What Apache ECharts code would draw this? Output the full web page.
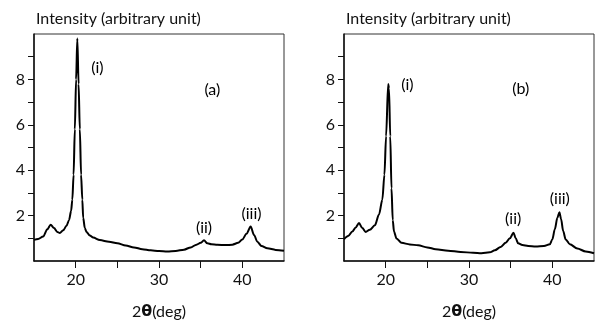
<!DOCTYPE html>
<html>
<head>
<meta charset="utf-8">
<script src="https://cdn.jsdelivr.net/npm/echarts@6/dist/echarts.min.js"></script>
<style>
html,body{margin:0;padding:0;background:#fff;}
#c{width:595px;height:328px;}
</style>
</head>
<body>
<div id="c"></div>
<script>
// 2θ (deg), intensity pairs for panel (a)
const seriesA = [
  [15.0,0.93],[15.5,0.97],[16.1,1.08],[16.6,1.4],[17.0,1.6],[17.4,1.45],[17.8,1.28],[18.1,1.23],
  [18.5,1.35],[18.9,1.55],[19.2,1.8],[19.45,2.2],[19.6,2.7],[19.75,3.8],[19.9,5.8],[20.05,8.0],
  [20.2,9.8],[20.35,7.8],[20.5,5.8],[20.65,3.8],[20.8,2.7],[20.9,1.9],[21.1,1.45],[21.3,1.28],
  [21.7,1.12],[22.1,1.03],[22.9,0.92],[24.0,0.85],[25.0,0.78],[26.0,0.68],[27.0,0.6],[28.0,0.52],
  [29.0,0.47],[30.0,0.44],[31.0,0.42],[32.0,0.44],[33.0,0.5],[33.8,0.6],[34.5,0.72],[35.0,0.8],
  [35.4,0.91],[35.8,0.78],[36.3,0.74],[37.0,0.72],[38.0,0.7],[38.8,0.72],[39.5,0.8],[40.0,0.95],
  [40.5,1.2],[41.0,1.52],[41.4,1.15],[41.8,0.85],[42.3,0.66],[43.0,0.56],[44.0,0.49],[45.0,0.45]
];
// 2θ (deg), intensity pairs for panel (b)
const seriesB = [
  [15.0,0.96],[15.5,1.1],[16.0,1.3],[16.4,1.48],[16.8,1.67],[17.2,1.45],[17.6,1.28],[18.1,1.38],
  [18.7,1.57],[19.2,2.05],[19.6,2.7],[19.85,3.8],[20.05,5.5],[20.3,7.8],[20.4,7.6],[20.55,5.5],
  [20.7,3.2],[20.85,1.8],[21.0,1.3],[21.3,0.99],[21.9,0.8],[22.9,0.73],[23.9,0.69],[25.0,0.6],
  [26.0,0.52],[27.5,0.45],[29.0,0.4],[30.5,0.36],[31.5,0.34],[32.5,0.38],[33.1,0.47],[33.8,0.62],
  [34.4,0.8],[34.9,1.0],[35.35,1.25],[35.6,1.0],[35.9,0.78],[36.4,0.7],[37.1,0.66],[38.0,0.64],
  [39.0,0.66],[39.7,0.74],[40.0,0.95],[40.3,1.4],[40.6,1.9],[40.85,2.15],[41.05,1.85],[41.3,1.32],
  [41.6,0.95],[42.1,0.74],[43.0,0.55],[44.0,0.42],[45.0,0.34]
];
const xTicks = [20,25,30,35,40];
const xLabels = [20,30,40];
const yTicks = [1,2,3,4,5,6,7,8,9];
const yLabels = [2,4,6,8];
const annotationsA = [['(i)',22.6,8.5],['(a)',36.4,7.56],['(ii)',35.4,1.45],['(iii)',41.1,2.06]];
const annotationsB = [['(i)',22.6,7.74],['(b)',36.2,7.6],['(ii)',35.3,1.87],['(iii)',40.9,2.72]];
const yTitle = 'Intensity (arbitrary unit)';

const FONT = 'Lato';
const chart = echarts.init(document.getElementById('c'), null, {renderer:'canvas'});

function xAxis(gi){
  return {
    type:'value', gridIndex:gi, min:15, max:45,
    axisLine:{show:true, lineStyle:{color:'#111', width:1.5}},
    axisTick:{show:true, customValues:xTicks, length:7, lineStyle:{color:'#111', width:1}},
    axisLabel:{show:true, customValues:xLabels, fontSize:16, color:'#111', fontFamily:FONT, margin:11},
    splitLine:{show:false},
    name:'{n|2}{b|θ}{n|(deg)}', nameLocation:'middle', nameGap:43,
    nameTextStyle:{rich:{n:{fontSize:16, color:'#111', fontFamily:FONT}, b:{fontSize:16, fontWeight:'bold', color:'#111', fontFamily:'DejaVu Sans'}}}
  };
}
function yAxis(gi){
  return {
    type:'value', gridIndex:gi, min:0, max:10,
    axisLine:{show:true, lineStyle:{color:'#111', width:1.5}},
    axisTick:{show:true, customValues:yTicks, length:6, lineStyle:{color:'#111', width:1}},
    axisLabel:{show:true, customValues:yLabels, fontSize:16, color:'#111', fontFamily:FONT, margin:9},
    splitLine:{show:false}
  };
}
function annSeries(list, idx){
  return {
    type:'scatter', xAxisIndex:idx, yAxisIndex:idx, silent:true, animation:false,
    symbol:'circle', symbolSize:0, itemStyle:{color:'#000', opacity:1},
    emphasis:{disabled:true},
    data:list.map(a=>({value:[a[1],a[2]], name:a[0]})),
    label:{show:true, position:'inside', formatter:p=>p.name, color:'#000', opacity:1, fontSize:16, fontFamily:FONT},
    z:5
  };
}
function line(data, idx){
  return {
    type:'line', xAxisIndex:idx, yAxisIndex:idx, data:data, showSymbol:false,
    smooth:0.3, smoothMonotone:'x',
    lineStyle:{color:'#000', width:2}, animation:false
  };
}
chart.setOption({
  animation:false,
  backgroundColor:'#fff',
  title:[
    {text:yTitle, left:31, top:6, textStyle:{fontSize:16, fontWeight:'normal', color:'#111', fontFamily:FONT}},
    {text:yTitle, left:341, top:6, textStyle:{fontSize:16, fontWeight:'normal', color:'#111', fontFamily:FONT}}
  ],
  grid:[
    {left:34, top:34, width:250, height:227, show:true, borderColor:'#333', borderWidth:1, backgroundColor:'transparent'},
    {left:344, top:34, width:250, height:227, show:true, borderColor:'#333', borderWidth:1, backgroundColor:'transparent'}
  ],
  xAxis:[xAxis(0), xAxis(1)],
  yAxis:[yAxis(0), yAxis(1)],
  series:[line(seriesA,0), line(seriesB,1), annSeries(annotationsA,0), annSeries(annotationsB,1)]
});
</script>
</body>
</html>
